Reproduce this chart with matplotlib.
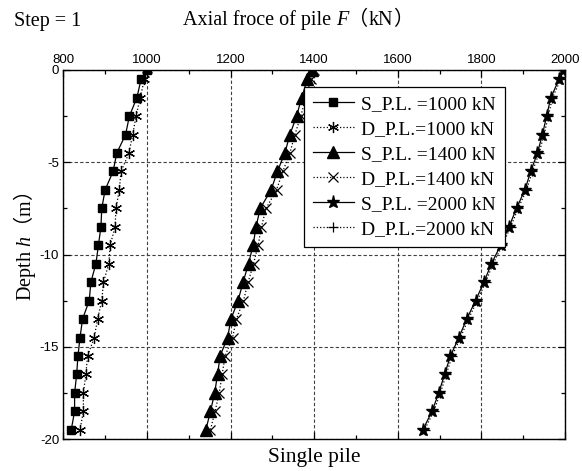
import matplotlib
matplotlib.use("Agg")
import matplotlib.pyplot as plt
import matplotlib.transforms as mtransforms
from matplotlib.ticker import MultipleLocator

plt.rcParams['axes.unicode_minus'] = False
plt.rcParams['mathtext.fontset'] = 'custom'
plt.rcParams['mathtext.rm'] = 'Noto Sans CJK SC'
plt.rcParams['mathtext.it'] = 'Liberation Serif:italic'

# ---------------- data ----------------
depth = [0, -0.5, -1.5, -2.5, -3.5, -4.5, -5.5, -6.5, -7.5, -8.5, -9.5,
         -10.5, -11.5, -12.5, -13.5, -14.5, -15.5, -16.5, -17.5, -18.5, -19.5]

s_1000 = [1000, 986, 976, 958, 949, 928, 919, 900, 892, 890, 884,
          878, 866, 862, 846, 840, 835, 832, 827, 827, 819]
d_1000 = [1000, 994, 984, 974, 966, 957, 938, 934, 926, 924, 912,
          909, 896, 892, 882, 874, 858, 854, 848, 848, 840]
s_1400 = [1395, 1384, 1370, 1358, 1342, 1330, 1312, 1297, 1271, 1261, 1254,
          1243, 1230, 1218, 1201, 1193, 1175, 1169, 1162, 1152, 1141]
d_1400 = [1400, 1392, 1380, 1368, 1354, 1342, 1325, 1310, 1285, 1274, 1266,
          1255, 1242, 1231, 1214, 1205, 1187, 1180, 1173, 1163, 1152]
s_2000 = [1995, 1986, 1966, 1956, 1946, 1934, 1918, 1904, 1884, 1866, 1846,
          1824, 1806, 1786, 1765, 1746, 1726, 1712, 1698, 1682, 1660]
d_2000 = [1998, 1990, 1970, 1960, 1950, 1938, 1922, 1908, 1888, 1870, 1850,
          1828, 1810, 1790, 1769, 1750, 1730, 1716, 1702, 1686, 1664]

labels = ["S_P.L. =1000 kN", "D_P.L.=1000 kN", "S_P.L. =1400 kN",
          "D_P.L.=1400 kN", "S_P.L. =2000 kN", "D_P.L.=2000 kN"]
x_ticks = [800, 1000, 1200, 1400, 1600, 1800, 2000]
y_ticks = [0, -5, -10, -15, -20]

SERIF = 'Liberation Serif'
SANS = 'Liberation Sans'
CJK = 'Noto Sans CJK SC'

# ---------------- figure ----------------
W, H = 582, 471
fig = plt.figure(figsize=(W / 100, H / 100), dpi=100)
ax = fig.add_axes([63.3 / W, 1 - 439 / H, (565 - 63.3) / W, (439 - 70) / H])

series = [
    (s_1000, dict(ls='-', marker='s', ms=6)),
    (d_1000, dict(ls=':', marker=(6, 2, 0), ms=8, mew=0.9)),
    (s_1400, dict(ls='-', marker='^', ms=8)),
    (d_1400, dict(ls=':', marker='x', ms=6.5, mew=0.9)),
    (s_2000, dict(ls='-', marker='*', ms=9.5)),
    (d_2000, dict(ls=':', marker='+', ms=7, mew=0.9)),
]
for (vals, kw), lab in zip(series, labels):
    ax.plot(vals, depth, color='black', lw=0.9, mfc='black', mec='black',
            label=lab, **kw)

ax.set_xlim(800, 2000)
ax.set_ylim(-20, 0)
ax.set_xticks(x_ticks)
ax.set_yticks(y_ticks)
ax.xaxis.set_minor_locator(MultipleLocator(100))
ax.yaxis.set_minor_locator(MultipleLocator(2.5))
ax.xaxis.tick_top()
ax.tick_params(which='both', direction='in', top=True, bottom=True,
               left=True, right=True, labeltop=True, labelbottom=False,
               labelleft=True, labelright=False, width=0.9)
ax.tick_params(which='major', length=5, labelsize=9.5, pad=3)
ax.tick_params(which='minor', length=3)
for lbl in ax.get_xticklabels() + ax.get_yticklabels():
    lbl.set_fontfamily(SANS)
for sp in ax.spines.values():
    sp.set_linewidth(1.0)

ax.grid(which='major', linestyle=(0, (3, 2)), color='0.25', linewidth=0.8)

leg = ax.legend(loc='upper left', bbox_to_anchor=(0.48, 0.955),
                prop={'family': SERIF, 'size': 14}, frameon=True,
                fancybox=False, framealpha=1, edgecolor='black',
                handlelength=2.1, handletextpad=0.4, labelspacing=0.38,
                borderpad=0.45, borderaxespad=0, numpoints=1)
leg.get_frame().set_linewidth(0.9)

# ---------------- texts ----------------
ident = mtransforms.IdentityTransform()
renderer = fig.canvas.get_renderer()


def text_width(s, props):
    t = fig.text(0, 0, s, transform=ident, **props)
    w = t.get_window_extent(renderer).width
    t.remove()
    return w


def rich(x, y, pieces):
    """Horizontal text pieces one after another; x, y in pixels from bottom."""
    pos = 0.0
    for s, props, adv in pieces:
        w = text_width(s, props) if adv is None else adv
        fig.text(x + pos, y, s, transform=ident, ha='left', va='baseline',
                 **props)
        pos += w


fs = 14.5
em = fs * 100 / 72.0
ser = dict(family=SERIF, fontsize=fs)
ita = dict(family=SERIF, fontsize=fs, style='italic')
cjk = dict(family=CJK, fontsize=fs)

fig.text(14 / W, 1 - 26 / H, "Step = 1", family=SERIF, fontsize=fs,
         ha='left', va='baseline')

rich(183, H - 25, [("Axial froce of pile", ser, None),
                   (" ", ser, 0.25 * em),
                   ("F", ita, None),
                   ("（", cjk, em),
                   ("kN", ser, None),
                   ("）", cjk, em)])

fig.text(24 / W, 1 - 247 / H, r"Depth $\mathit{h}$$\mathrm{（}$m$\mathrm{）}$",
         family=SERIF, fontsize=fs, rotation=90, ha='center', va='center')

fig.text(314 / W, 1 - 462 / H, "Single pile", family=SERIF, fontsize=15.5,
         ha='center', va='baseline')

fig.savefig("out.png", dpi=100)
